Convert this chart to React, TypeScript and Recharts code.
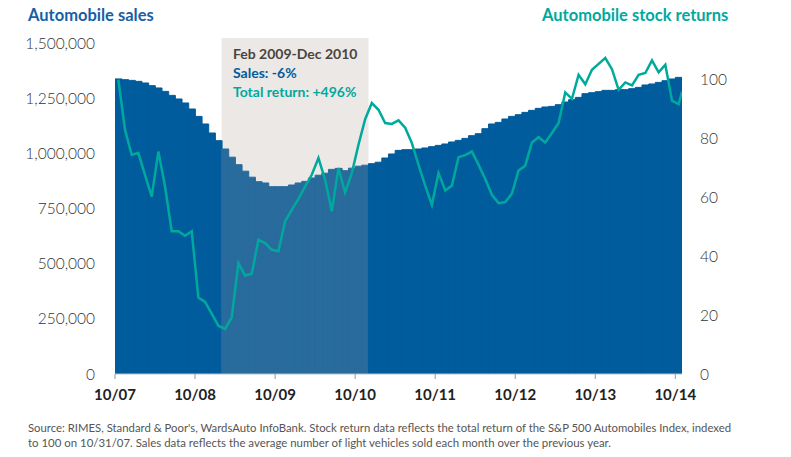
import React from 'react';
import { ComposedChart, Bar, Line, XAxis, YAxis, ReferenceArea, Cell } from 'recharts';

// Month index 0 = Oct 2007
const xTickLabels = ['10/07', '10/08', '10/09', '10/10', '10/11', '10/12', '10/13', '10/14'];

const sales = [
  1341000, 1337600, 1334400, 1329900, 1322600, 1310300, 1299900, 1284400, 1266200, 1249900,
  1231700, 1204400, 1170800, 1136300, 1095300, 1060400, 1022600, 985400, 951300, 921700,
  894500, 874000, 868100, 851300, 851300, 851300, 859000, 868100, 875400, 890800,
  903500, 912600, 929900, 934500, 924000, 935400, 944500, 949000, 955800, 962600,
  981700, 999900, 1016300, 1019400, 1019400, 1022600, 1027200, 1033100, 1039000, 1045400,
  1054400, 1061700, 1070800, 1083100, 1092200, 1114900, 1136300, 1143500, 1159000, 1170800,
  1178500, 1189000, 1198100, 1207200, 1213500, 1216200, 1224000, 1236200, 1246700, 1257100,
  1274000, 1278500, 1283100, 1289000, 1289000, 1292100, 1292100, 1296700, 1302600, 1313500,
  1318100, 1325300, 1333000, 1340800, 1348000,
];

const stockReturns = [
  100, 83, 74.5, 75.1, 67.7, 60.3, 75.6, 63.7, 48.5, 48.5,
  47, 48.5, 26, 24.5, 20.5, 16.4, 15.3, 19.2, 37.7, 33.5,
  34.1, 45.6, 44.5, 42.2, 41.7, 51.9, 55.8, 59.5, 63.7, 67.7,
  73.4, 66, 55.3, 70, 61.7, 68.3, 77.9, 86.6, 92.1, 89.8,
  85.3, 85, 86.2, 83.7, 78.5, 71.1, 64, 57.5, 68.3, 62.4,
  64, 73.7, 74.4, 75.6, 71.1, 66.3, 60.9, 58.1, 58.4, 61.3,
  69.2, 70.8, 78.7, 80.5, 78.7, 81.9, 85.3, 95.7, 93.5, 101.7,
  98.5, 103.4, 105.4, 107.4, 103.6, 96.6, 99.1, 98.1, 101.7, 102.3,
  106.6, 102.5, 105.1, 92.9, 91.7, 96,
];

const salesTicks = [0, 250000, 500000, 750000, 1000000, 1250000, 1500000];
const returnTicks = [0, 20, 40, 60, 80, 100];
const highlightStart = 16; // Feb 2009
const highlightEnd = 38; // Dec 2010

const monthCount = sales.length;
const barData = sales.map((v, i) => ({ m: i + 0.5, sales: v }));
const lineData = stockReturns.map((v, i) => ({ m: Math.min(i + 0.5, monthCount), ret: v }));
const monthTicks = xTickLabels.map((_, i) => i * 12);

const FONT = 'Lato, "Open Sans", sans-serif';
const BLUE = '#005c9c';
const BLUE_HL = '#286b9c';
const TITLE_BLUE = '#165fa6';
const TEAL = '#00a99d';

const axisTick = { fill: '#333', fontSize: 15.5, fontFamily: FONT, fontWeight: 300 };

export default function App() {
  return (
    <div style={{ position: 'absolute', left: 0, top: 0, width: 791, height: 457, background: '#fff', fontFamily: FONT }}>
      <ComposedChart
        width={791}
        height={457}
        data={barData}
        barCategoryGap={0}
        barGap={0}
        margin={{ top: 38, right: 49, bottom: 53, left: 35 }}
      >
        <XAxis
          xAxisId="main"
          dataKey="m"
          type="number"
          domain={[0, monthCount]}
          ticks={monthTicks}
          allowDataOverflow
          tickFormatter={(v: number) => xTickLabels[Math.round(v / 12)]}
          height={30}
          stroke="#b3c1cf"
          tickSize={5}
          tickMargin={10}
          tickLine={{ stroke: '#999' }}
          tick={{ fill: '#222', fontSize: 15, fontWeight: 700, fontFamily: FONT }}
        />
        <XAxis
          xAxisId="line"
          dataKey="m"
          type="number"
          orientation="top"
          height={0}
          domain={[0, monthCount]}
          allowDataOverflow
          hide
        />
        <YAxis
          yAxisId="left"
          domain={[0, 1527000]}
          ticks={salesTicks}
          allowDataOverflow
          width={80}
          axisLine={false}
          tickLine={false}
          tickSize={0}
          tickMargin={20}
          tickFormatter={(v: number) => v.toLocaleString('en-US')}
          tick={axisTick}
        />
        <YAxis
          yAxisId="right"
          orientation="right"
          domain={[0, 114.2]}
          ticks={returnTicks}
          allowDataOverflow
          width={60}
          axisLine={false}
          tickLine={false}
          tickSize={0}
          tickMargin={18}
          tick={{ ...axisTick, textAnchor: 'start' }}
        />
        <ReferenceArea
          xAxisId="main"
          yAxisId="left"
          x1={highlightStart}
          x2={highlightEnd}
          fill="#a89b94"
          fillOpacity={0.23}
          stroke="none"
        />
        <Bar
          xAxisId="main"
          yAxisId="left"
          dataKey="sales"
          fill={BLUE}
          isAnimationActive={false}
        >
          {barData.map((d, i) => {
            const c = i >= highlightStart && i < highlightEnd ? BLUE_HL : BLUE;
            return <Cell key={i} fill={c} stroke={c} strokeWidth={1} />;
          })}
        </Bar>
        <Line
          xAxisId="line"
          yAxisId="right"
          data={lineData}
          dataKey="ret"
          type="linear"
          stroke={TEAL}
          strokeWidth={2.5}
          dot={false}
          activeDot={false}
          isAnimationActive={false}
        />
      </ComposedChart>

      <div style={{ position: 'absolute', left: 28, top: 6.5, fontSize: 16.5, lineHeight: '16.5px', fontWeight: 700, color: TITLE_BLUE, whiteSpace: 'nowrap' }}>
        Automobile sales
      </div>
      <div style={{ position: 'absolute', left: 542, top: 6.5, fontSize: 16.5, lineHeight: '16.5px', fontWeight: 700, color: TEAL, whiteSpace: 'nowrap' }}>
        Automobile stock returns
      </div>

      <div style={{ position: 'absolute', left: 233, top: 47, fontSize: 14, lineHeight: '14px', fontWeight: 700, color: '#4a4440', whiteSpace: 'nowrap' }}>
        Feb 2009-Dec 2010
      </div>
      <div style={{ position: 'absolute', left: 233, top: 66.3, fontSize: 14, lineHeight: '14px', fontWeight: 700, color: BLUE, whiteSpace: 'nowrap' }}>
        Sales: -6%
      </div>
      <div style={{ position: 'absolute', left: 233, top: 84.6, fontSize: 14, lineHeight: '14px', fontWeight: 700, color: TEAL, whiteSpace: 'nowrap' }}>
        Total return: +496%
      </div>

      <svg style={{ position: 'absolute', left: 0, top: 410 }} width={791} height={47}>
        <text x={28} y={22} fontSize={11} fill="#555" fontFamily={FONT} textLength={703} lengthAdjust="spacingAndGlyphs">
          Source: RIMES, Standard &amp; Poor's, WardsAuto InfoBank. Stock return data reflects the total return of the S&amp;P 500 Automobiles Index, indexed
        </text>
        <text x={28} y={36.5} fontSize={11} fill="#555" fontFamily={FONT} textLength={583} lengthAdjust="spacingAndGlyphs">
          to 100 on 10/31/07.  Sales data reflects the average number of light vehicles sold each month over the previous year.
        </text>
      </svg>
    </div>
  );
}
